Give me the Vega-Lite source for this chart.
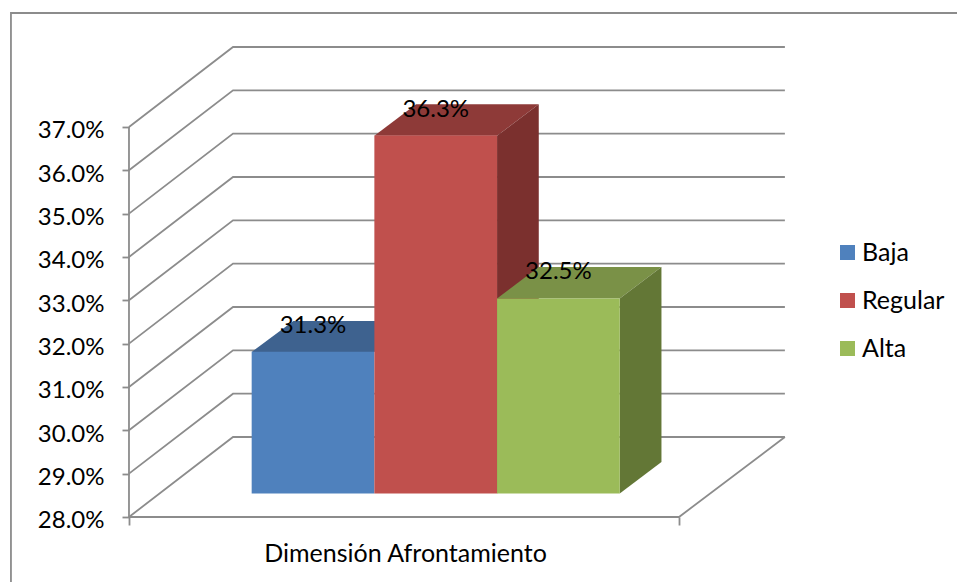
{
"$schema":"https://vega.github.io/schema/vega-lite/v6.json",
"width":957,"height":582,"autosize":"none","padding":0,
"background":"white",
"config":{"view":{"stroke":null},"font":"Lato"},
"datasets":{
"barras":[
{"nivel":"Baja","valor":0.3127,"base":0.28,"inicio":1,"fin":2,"centro":1.5},
{"nivel":"Regular","valor":0.3626,"base":0.28,"inicio":2,"fin":3,"centro":2.5},
{"nivel":"Alta","valor":0.325,"base":0.28,"inicio":3,"fin":4,"centro":3.5}],
"caras":[
{"cara":"Regular superior","x":2,"lo":0.36795,"hi":0.36795},
{"cara":"Regular superior","x":2.34,"lo":0.36795,"hi":0.37522},
{"cara":"Regular superior","x":3,"lo":0.36795,"hi":0.37522},
{"cara":"Regular superior","x":3.34,"lo":0.37522,"hi":0.37522},
{"cara":"Regular lateral","x":3,"lo":0.28542,"hi":0.36795},
{"cara":"Regular lateral","x":3.34,"lo":0.29269,"hi":0.37522},
{"cara":"Baja superior","x":1,"lo":0.31808,"hi":0.31808},
{"cara":"Baja superior","x":1.34,"lo":0.31808,"hi":0.32523},
{"cara":"Baja superior","x":2,"lo":0.31808,"hi":0.32523},
{"cara":"Baja superior","x":2.34,"lo":0.32523,"hi":0.32523},
{"cara":"Alta superior","x":3,"lo":0.33043,"hi":0.33043},
{"cara":"Alta superior","x":3.34,"lo":0.33043,"hi":0.3377},
{"cara":"Alta superior","x":4,"lo":0.33043,"hi":0.3377},
{"cara":"Alta superior","x":4.34,"lo":0.3377,"hi":0.3377},
{"cara":"Alta lateral","x":4,"lo":0.28542,"hi":0.33043},
{"cara":"Alta lateral","x":4.34,"lo":0.29269,"hi":0.3377}],
"lineas":[
{"l":"marco","o":0,"x":-0.962,"y":0.265},{"l":"marco","o":1,"x":-0.962,"y":0.3963},{"l":"marco","o":2,"x":6.75,"y":0.3963},
{"l":"eje","o":0,"x":0,"y":0.37},{"l":"eje","o":1,"x":0,"y":0.28},{"l":"eje","o":2,"x":4.483,"y":0.28},{"l":"eje","o":3,"x":5.346,"y":0.29846},
{"l":"g28","o":0,"x":0,"y":0.28},{"l":"g28","o":1,"x":0.848,"y":0.29846},{"l":"g28","o":2,"x":5.346,"y":0.29846},
{"l":"g29","o":0,"x":0,"y":0.29},{"l":"g29","o":1,"x":0.848,"y":0.30846},{"l":"g29","o":2,"x":5.346,"y":0.30846},
{"l":"g30","o":0,"x":0,"y":0.30},{"l":"g30","o":1,"x":0.848,"y":0.31846},{"l":"g30","o":2,"x":5.346,"y":0.31846},
{"l":"g31","o":0,"x":0,"y":0.31},{"l":"g31","o":1,"x":0.848,"y":0.32846},{"l":"g31","o":2,"x":5.346,"y":0.32846},
{"l":"g32","o":0,"x":0,"y":0.32},{"l":"g32","o":1,"x":0.848,"y":0.33846},{"l":"g32","o":2,"x":5.346,"y":0.33846},
{"l":"g33","o":0,"x":0,"y":0.33},{"l":"g33","o":1,"x":0.848,"y":0.34846},{"l":"g33","o":2,"x":5.346,"y":0.34846},
{"l":"g34","o":0,"x":0,"y":0.34},{"l":"g34","o":1,"x":0.848,"y":0.35846},{"l":"g34","o":2,"x":5.346,"y":0.35846},
{"l":"g35","o":0,"x":0,"y":0.35},{"l":"g35","o":1,"x":0.848,"y":0.36846},{"l":"g35","o":2,"x":5.346,"y":0.36846},
{"l":"g36","o":0,"x":0,"y":0.36},{"l":"g36","o":1,"x":0.848,"y":0.37846},{"l":"g36","o":2,"x":5.346,"y":0.37846},
{"l":"g37","o":0,"x":0,"y":0.37},{"l":"g37","o":1,"x":0.848,"y":0.38846},{"l":"g37","o":2,"x":5.346,"y":0.38846}]
},
"layer":[
{"data":{"name":"lineas"},
 "mark":{"type":"line","color":"#8c8c8c","strokeWidth":1.8,"interpolate":"linear"},
 "encoding":{
  "x":{"field":"x","type":"quantitative","scale":{"domain":[-1.0513,6.7488],"nice":false,"zero":false},
   "axis":{"values":[0,4.483],"labels":false,"domain":false,"grid":false,"tickColor":"#8c8c8c","tickWidth":1.8,"tickSize":8,"offset":-65,
    "title":"Dimensión Afrontamiento","titleFontSize":25,"titleFontWeight":"normal","titleColor":"#000000","titleX":405,"titleY":36,"titleBaseline":"middle","titleAlign":"center"}},
  "y":{"field":"y","type":"quantitative","scale":{"domain":[0.265,0.3993],"nice":false,"zero":false},
   "axis":{"values":[0.28,0.29,0.30,0.31,0.32,0.33,0.34,0.35,0.36,0.37],"format":".1%","domain":false,"grid":false,"title":null,"offset":-129,"tickColor":"#8c8c8c","tickWidth":1.8,"tickSize":7,"labelFontSize":24,"labelColor":"#000000","labelPadding":18,"labelOffset":4}},
  "detail":{"field":"l"},
  "order":{"field":"o"}}},
{"data":{"name":"caras"},
 "mark":{"type":"area","interpolate":"linear"},
 "encoding":{
  "x":{"field":"x","type":"quantitative"},
  "y":{"field":"lo","type":"quantitative","stack":null},
  "y2":{"field":"hi"},
  "color":{"field":"cara","type":"nominal","legend":null,
   "scale":{"domain":["Regular superior","Regular lateral","Baja superior","Alta superior","Alta lateral"],"range":["#8E3A38","#7B302E","#3E628F","#7A9147","#637736"]}}}},
{"data":{"name":"barras"},
 "mark":{"type":"rect","yOffset":-23.5,"y2Offset":-23.5},
 "encoding":{
  "x":{"field":"inicio","type":"quantitative"},
  "x2":{"field":"fin"},
  "y":{"field":"valor","type":"quantitative"},
  "y2":{"field":"base"},
  "color":{"field":"nivel","type":"nominal","title":null,
   "scale":{"domain":["Baja","Regular","Alta"],"range":["#4F81BD","#C0504D","#9BBB59"]},
   "legend":{"orient":"none","legendX":835,"legendY":240,"symbolType":"square","symbolSize":225,"symbolStrokeWidth":0,"labelFontSize":25,"labelColor":"#000000","labelOffset":2,"rowPadding":22,"labelLimit":200}}}},
{"data":{"name":"barras"},
 "mark":{"type":"text","fontSize":24,"color":"#000000","baseline":"middle","align":"center","dy":-49.5},
 "encoding":{
  "x":{"field":"centro","type":"quantitative"},
  "y":{"field":"valor","type":"quantitative"},
  "text":{"field":"valor","type":"quantitative","format":".1%"}}}
],
"resolve":{"scale":{"color":"independent"}}
}
